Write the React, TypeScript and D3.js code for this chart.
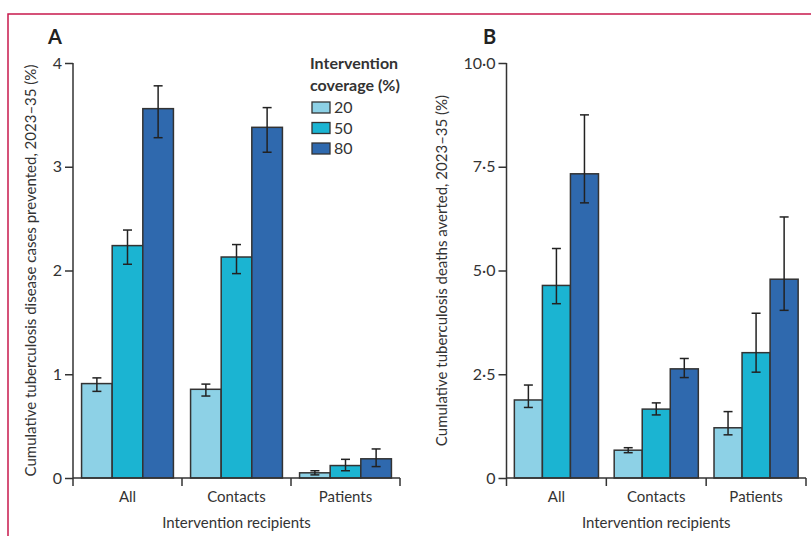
import React, { useEffect, useRef } from 'react';
import * as d3 from 'd3';

const categories = ['All', 'Contacts', 'Patients'];
const coverages = ['20', '50', '80'];
const colors = ['#8dd1e6', '#1bb4d2', '#2f69ae'];

// Panel A: cumulative TB disease cases prevented (%)
const casesMean = [
  [0.91, 2.24, 3.56],
  [0.855, 2.13, 3.38],
  [0.05, 0.12, 0.185],
];
const casesLow = [
  [0.835, 2.06, 3.28],
  [0.79, 1.97, 3.14],
  [0.03, 0.07, 0.11],
];
const casesHigh = [
  [0.965, 2.39, 3.78],
  [0.905, 2.25, 3.57],
  [0.07, 0.18, 0.28],
];
const casesTicks = [0, 1, 2, 3, 4];

// Panel B: cumulative TB deaths averted (%)
const deathsMean = [
  [1.88, 4.64, 7.33],
  [0.67, 1.66, 2.63],
  [1.21, 3.02, 4.79],
];
const deathsLow = [
  [1.7, 4.2, 6.63],
  [0.61, 1.52, 2.42],
  [1.04, 2.55, 4.04],
];
const deathsHigh = [
  [2.24, 5.53, 8.75],
  [0.73, 1.81, 2.88],
  [1.6, 3.97, 6.29],
];
const deathsTicks = [0, 2.5, 5, 7.5, 10];

const FONT = 'Lato, "Open Sans", sans-serif';
const INK = '#333333';

interface PanelSpec {
  letter: string;
  letterX: number;
  x0: number;
  x1: number;
  yMax: number;
  ticks: number[];
  fmt: (v: number) => string;
  mean: number[][];
  low: number[][];
  high: number[][];
  yLabel: string;
  yLabelX: number;
}

const App: React.FC = () => {
  const svgRef = useRef<SVGSVGElement>(null);

  useEffect(() => {
    if (!svgRef.current) return;
    const svg = d3.select(svgRef.current);
    svg.selectAll('*').remove();

    const yTop = 63;
    const yBottom = 478;

    // frame
    svg.append('path')
      .attr('d', 'M8,536 L8,14 L811,14')
      .attr('fill', 'none')
      .attr('stroke', '#c8194c')
      .attr('stroke-width', 1.5);

    const panels: PanelSpec[] = [
      {
        letter: 'A', letterX: 48, x0: 73, x1: 400, yMax: 4, ticks: casesTicks,
        fmt: v => String(v),
        mean: casesMean, low: casesLow, high: casesHigh,
        yLabel: 'Cumulative tuberculosis disease cases prevented, 2023–35 (%)',
        yLabelX: 36,
      },
      {
        letter: 'B', letterX: 483, x0: 506.5, x1: 806, yMax: 10, ticks: deathsTicks,
        fmt: v => (v === 0 ? '0' : v.toFixed(1).replace('.', '·')),
        mean: deathsMean, low: deathsLow, high: deathsHigh,
        yLabel: 'Cumulative tuberculosis deaths averted, 2023–35 (%)',
        yLabelX: 447,
      },
    ];

    panels.forEach(p => {
      const g = svg.append('g');
      const y = d3.scaleLinear().domain([0, p.yMax]).range([yBottom, yTop]);
      const x = d3.scaleBand().domain(categories).range([p.x0, p.x1]).paddingInner(0).paddingOuter(0);
      const xs = d3.scaleBand().domain(coverages).range([0, x.bandwidth()]).paddingInner(0).paddingOuter(0.28);

      // panel letter
      g.append('text')
        .attr('x', p.letterX)
        .attr('y', 44)
        .attr('font-family', FONT)
        .attr('font-weight', 'bold')
        .attr('font-size', 20)
        .attr('fill', '#222')
        .text(p.letter);

      // bars + error bars
      categories.forEach((c, ci) => {
        coverages.forEach((s, si) => {
          const bx = (x(c) as number) + (xs(s) as number);
          const bw = xs.bandwidth();
          g.append('rect')
            .attr('x', bx)
            .attr('y', y(p.mean[ci][si]))
            .attr('width', bw)
            .attr('height', yBottom - y(p.mean[ci][si]))
            .attr('fill', colors[si])
            .attr('stroke', INK)
            .attr('stroke-width', 1.5);
          const cx = bx + bw / 2;
          const eg = g.append('g').attr('stroke', '#222').attr('stroke-width', 1.5);
          eg.append('line')
            .attr('x1', cx).attr('x2', cx)
            .attr('y1', y(p.high[ci][si])).attr('y2', y(p.low[ci][si]));
          [p.high[ci][si], p.low[ci][si]].forEach(v => {
            eg.append('line')
              .attr('x1', cx - 4.5).attr('x2', cx + 4.5)
              .attr('y1', y(v)).attr('y2', y(v));
          });
        });
      });

      // y axis
      const ya = g.append('g')
        .attr('transform', `translate(${p.x0},0)`)
        .call(d3.axisLeft(y).tickValues(p.ticks).tickFormat(d => p.fmt(d as number)).tickSize(8).tickSizeOuter(0));
      ya.select('.domain').attr('stroke', INK).attr('stroke-width', 1.5).attr('d', `M0,${yTop}V${yBottom + 8}`);
      ya.selectAll('.tick line').attr('stroke', INK).attr('stroke-width', 1.5);
      ya.selectAll('.tick text')
        .attr('font-family', FONT)
        .attr('font-size', 16)
        .attr('fill', INK)
        .attr('x', -11);

      // x axis
      const xa = g.append('g').attr('transform', `translate(0,${yBottom})`);
      xa.append('line')
        .attr('x1', p.x0).attr('x2', p.x1)
        .attr('stroke', INK).attr('stroke-width', 1.5);
      categories.forEach(c => {
        const ex = (x(c) as number) + x.bandwidth();
        xa.append('line')
          .attr('x1', ex).attr('x2', ex).attr('y1', 0).attr('y2', 8)
          .attr('stroke', INK).attr('stroke-width', 1.5);
        xa.append('text')
          .attr('x', (x(c) as number) + x.bandwidth() / 2)
          .attr('y', 24)
          .attr('text-anchor', 'middle')
          .attr('font-family', FONT)
          .attr('font-size', 15)
          .attr('fill', INK)
          .text(c);
      });

      g.append('text')
        .attr('x', (p.x0 + p.x1) / 2)
        .attr('y', 528)
        .attr('text-anchor', 'middle')
        .attr('font-family', FONT)
        .attr('font-size', 15)
        .attr('fill', INK)
        .text('Intervention recipients');

      g.append('text')
        .attr('transform', `translate(${p.yLabelX},${(yTop + yBottom) / 2}) rotate(-90)`)
        .attr('text-anchor', 'middle')
        .attr('font-family', FONT)
        .attr('font-size', 15)
        .attr('fill', INK)
        .text(p.yLabel);
    });

    // legend
    const lg = svg.append('g').attr('font-family', FONT).attr('fill', INK);
    lg.append('text').attr('x', 310).attr('y', 69).attr('font-weight', 'bold').attr('font-size', 16).text('Intervention');
    lg.append('text').attr('x', 310).attr('y', 91).attr('font-weight', 'bold').attr('font-size', 16).text('coverage (%)');
    coverages.forEach((s, i) => {
      lg.append('rect')
        .attr('x', 312).attr('y', 102 + i * 20.5)
        .attr('width', 18).attr('height', 11)
        .attr('fill', colors[i]).attr('stroke', INK).attr('stroke-width', 1.3);
      lg.append('text')
        .attr('x', 334).attr('y', 113 + i * 20.5)
        .attr('font-size', 16)
        .text(s);
    });
  }, []);

  return (
    <svg ref={svgRef} width={811} height={536} style={{ display: 'block', position: 'absolute', left: 0, top: 0, background: '#fff' }} />
  );
};

export default App;
